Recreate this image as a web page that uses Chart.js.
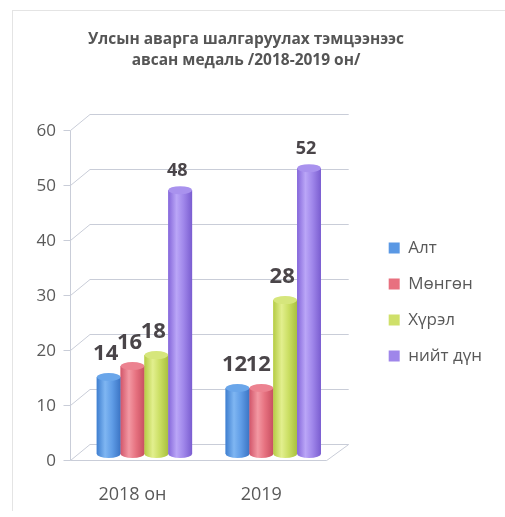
<!DOCTYPE html>
<html>
<head>
<meta charset="utf-8">
<script src="https://cdn.jsdelivr.net/npm/chart.js@4"></script>
<style>
  html, body { margin: 0; padding: 0; background: #ffffff; }
  #wrap { position: relative; width: 505px; height: 517px; }
  #frame { position: absolute; left: 12px; top: 10px; right: 0; bottom: 6px;
           border-left: 1px solid #e4e4e4; border-top: 1px solid #e4e4e4; pointer-events: none; }
  canvas { position: absolute; left: 0; top: 0; }
</style>
</head>
<body>
<div id="wrap">
  <canvas id="c" width="505" height="517"></canvas>
  <div id="frame"></div>
</div>
<script>
// ---- data ----
const categories = ['2018 он', '2019'];
const seriesNames = ['Алт', 'Мөнгөн', 'Хүрэл', 'нийт дүн'];
const altValues = [14, 12];
const mongonValues = [16, 12];
const hurelValues = [18, 28];
const niitValues = [48, 52];
const titleLines = ['Улсын аварга шалгаруулах тэмцээнээс', 'авсан медаль /2018-2019 он/'];
const yMin = 0, yMax = 60, yStep = 10;

// ---- styles ----
const baseColors = ['#5a98e4', '#e8707f', '#cfe06a', '#9f86ea'];
const cylStops = [
  ['#3f7fd0', '#7fb6f2', '#5f9ce6', '#3b74c4'],
  ['#d2566a', '#f398a3', '#e6717f', '#c84f61'],
  ['#b5cc45', '#e2ef8e', '#cade62', '#a9c03e'],
  ['#8567da', '#baa6f7', '#9f86ea', '#7a5dd0']
];
const capColors = ['#6aa6ea', '#ec8290', '#d6e67c', '#a992ee'];
const labelSizes = [22, 22, 22, 18];
const FONT = "'Open Sans', 'DejaVu Sans', sans-serif";

const seriesValues = [altValues, mongonValues, hurelValues, niitValues];

const floorGridPlugin = {
  id: 'floorGrid',
  beforeDatasetsDraw(chart) {
    const ctx = chart.ctx, a = chart.chartArea, ys = chart.scales.y;
    const fx = a.left - 10 + 0.5;
    ctx.save();
    ctx.strokeStyle = '#c9cdd8';
    ctx.lineWidth = 1;
    ys.ticks.forEach(t => {
      const py = Math.round(ys.getPixelForValue(t.value)) + 0.5;
      ctx.beginPath();
      ctx.moveTo(fx - 7, py + 6);
      ctx.lineTo(fx, py + 6);
      ctx.lineTo(a.left + 10, py - 10);
      ctx.lineTo(a.right + 11, py - 10);
      ctx.stroke();
    });
    const pTop = Math.round(ys.getPixelForValue(yMax)) + 0.5;
    const p0 = Math.round(ys.getPixelForValue(0)) + 0.5;
    ctx.beginPath();
    ctx.moveTo(fx, pTop + 6);
    ctx.lineTo(fx, p0 + 6);
    ctx.lineTo(a.right - 11, p0 + 6);
    ctx.lineTo(a.right + 11, p0 - 10);
    ctx.stroke();
    ctx.restore();
  }
};

const cylinderPlugin = {
  id: 'cylinders',
  afterDatasetsDraw(chart) {
    const ctx = chart.ctx;
    ctx.save();
    chart.data.datasets.forEach((ds, i) => {
      const meta = chart.getDatasetMeta(i);
      meta.data.forEach((el, j) => {
        const p = el.getProps(['x', 'y', 'base', 'width'], true);
        const rx = p.width / 2, ry = 4;
        const left = p.x - rx;
        const g = ctx.createLinearGradient(left, 0, left + p.width, 0);
        const s = cylStops[i];
        g.addColorStop(0, s[0]);
        g.addColorStop(0.35, s[1]);
        g.addColorStop(0.65, s[2]);
        g.addColorStop(1, s[3]);
        ctx.fillStyle = g;
        ctx.fillRect(left, p.y, p.width, p.base - p.y);
        ctx.beginPath();
        ctx.ellipse(p.x, p.base, rx, ry, 0, 0, Math.PI);
        ctx.fill();
        ctx.beginPath();
        ctx.ellipse(p.x, p.y, rx, ry, 0, 0, Math.PI * 2);
        ctx.fillStyle = capColors[i];
        ctx.fill();
        // data label
        ctx.fillStyle = '#4a4549';
        ctx.font = 'bold ' + labelSizes[i] + 'px ' + FONT;
        ctx.textAlign = 'center';
        ctx.textBaseline = 'middle';
        ctx.fillText(String(ds.data[j]), p.x - 3, p.y - (labelSizes[i] > 20 ? 23 : 19));
      });
    });
    ctx.restore();
  }
};

new Chart(document.getElementById('c'), {
  type: 'bar',
  data: {
    labels: categories,
    datasets: seriesNames.map((name, i) => ({
      label: name,
      data: seriesValues[i],
      backgroundColor: baseColors[i],
      borderWidth: 0,
      categoryPercentage: 0.74,
      barPercentage: 1.0
    }))
  },
  options: {
    responsive: false,
    animation: false,
    devicePixelRatio: 1,
    layout: { padding: { left: 0, right: 13, top: 0, bottom: 0 } },
    plugins: {
      title: {
        display: true,
        text: titleLines,
        color: '#555555',
        font: { family: FONT, size: 15.5, weight: 'bold', lineHeight: 1.36 },
        padding: { top: 29, bottom: 53 }
      },
      legend: {
        position: 'right',
        align: 'center',
        fullSize: false,
        title: { display: true, text: '', font: { size: 12, lineHeight: 1 }, padding: 7 },
        labels: {
          boxWidth: 11,
          boxHeight: 11,
          padding: 19,
          color: '#595959',
          font: { family: FONT, size: 17 }
        }
      },
      tooltip: { enabled: false }
    },
    scales: {
      x: {
        grid: { display: false },
        border: { display: false },
        ticks: { color: '#595959', font: { family: FONT, size: 18 }, padding: 22, labelOffset: -12 },
        afterFit(s) { s.height = 63; }
      },
      y: {
        min: yMin, max: yMax,
        grid: { display: false },
        border: { display: false },
        ticks: { stepSize: yStep, color: '#595959', font: { family: FONT, size: 17 }, padding: 16, labelOffset: 7 },
        afterFit(s) { s.width = 80; }
      },
      yR: {
        type: 'linear',
        position: 'right',
        display: false,
        afterFit(s) { s.width = 32; }
      }
    }
  },
  plugins: [floorGridPlugin, cylinderPlugin]
});
</script>
</body>
</html>
